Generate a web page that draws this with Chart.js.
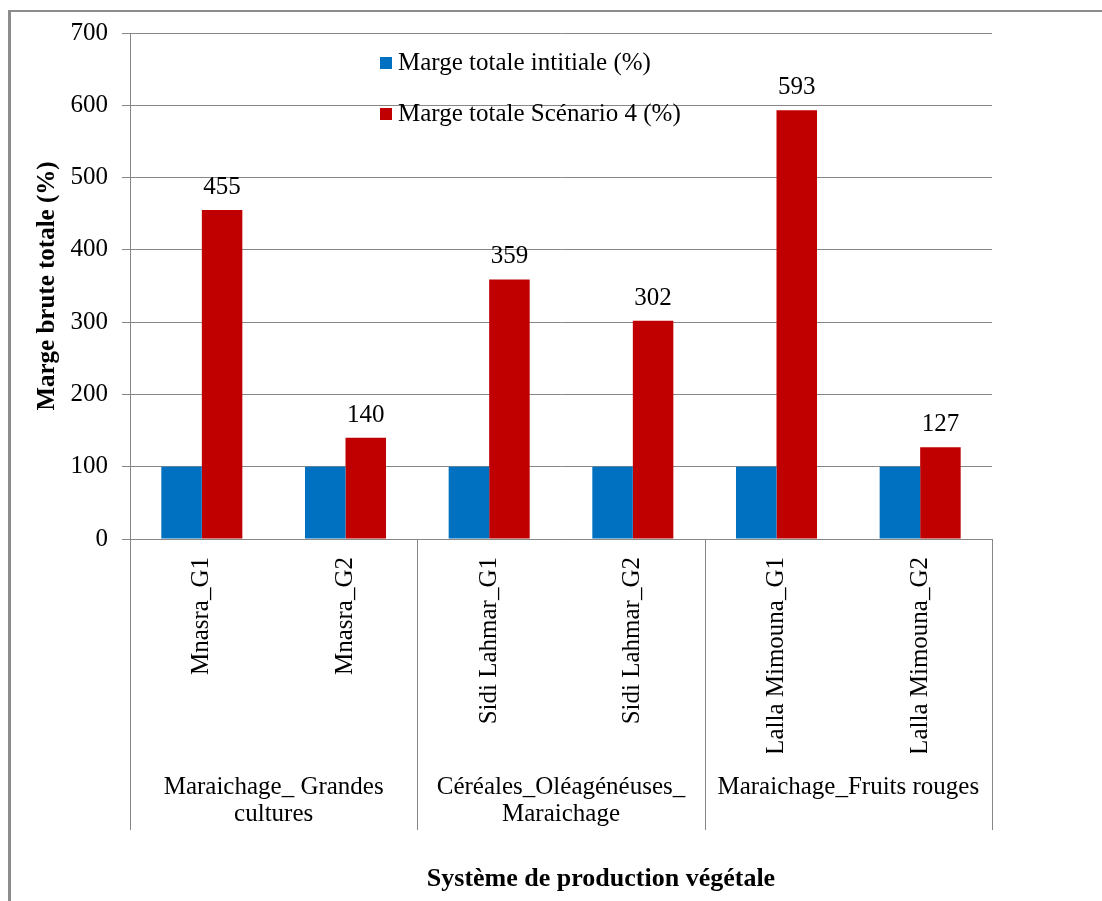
<!DOCTYPE html>
<html>
<head>
<meta charset="utf-8">
<script src="https://cdn.jsdelivr.net/npm/chart.js@4.4.0/dist/chart.umd.min.js"></script>
<style>
  html, body { margin: 0; padding: 0; background: #fff; }
  #wrap { width: 1102px; height: 901px; position: relative; }
</style>
</head>
<body>
<div id="wrap"><canvas id="myChart" width="1102" height="901"></canvas></div>
<script>
// donnees
var sites = ['Mnasra_G1', 'Mnasra_G2', 'Sidi Lahmar_G1', 'Sidi Lahmar_G2', 'Lalla Mimouna_G1', 'Lalla Mimouna_G2'];
var systemes = [['Maraichage_ Grandes', 'cultures'], ['Céréales_Oléagénéuses_', 'Maraichage'], 'Maraichage_Fruits rouges'];
var margeInitiale = [100, 100, 100, 100, 100, 100];
var margeScenario4 = [455, 140, 359, 302, 593, 127];
var yTicks = [0, 100, 200, 300, 400, 500, 600, 700];

var serif = "'Liberation Serif', 'Times New Roman', serif";
var gris = '#878787';
var bleu = '#0070C0';
var rouge = '#C00000';

// cadre, separateurs de groupes, etiquettes, legende et titre X
var extras = {
    id: 'extras',
    beforeDraw: function (chart) {
        var ctx = chart.ctx;
        ctx.save();
        ctx.fillStyle = '#fff';
        ctx.fillRect(0, 0, chart.width, chart.height);
        ctx.strokeStyle = '#8c8c8c';
        ctx.lineWidth = 3;
        ctx.beginPath();
        ctx.moveTo(9.5, chart.height);
        ctx.lineTo(9.5, 11);
        ctx.stroke();
        ctx.lineWidth = 2;
        ctx.beginPath();
        ctx.moveTo(8, 11);
        ctx.lineTo(chart.width, 11);
        ctx.stroke();
        ctx.restore();
    },
    afterDraw: function (chart) {
        var ctx = chart.ctx;
        var area = chart.chartArea;
        var x = chart.scales.x;
        var x2 = chart.scales.x2;
        ctx.save();

        // separateurs entre systemes
        ctx.strokeStyle = gris;
        ctx.lineWidth = 1;
        var n = sites.length;
        var step = (x.getPixelForValue(1) - x.getPixelForValue(0));
        for (var i = 0; i <= n; i += 2) {
            var px = Math.round(x.getPixelForValue(0) - step / 2 + i * step) + 0.5;
            ctx.beginPath();
            ctx.moveTo(px, area.bottom);
            ctx.lineTo(px, x2.bottom);
            ctx.stroke();
        }

        // valeurs au-dessus des barres rouges
        ctx.font = '25px ' + serif;
        ctx.fillStyle = '#000';
        ctx.textAlign = 'center';
        ctx.textBaseline = 'alphabetic';
        var meta = chart.getDatasetMeta(1);
        meta.data.forEach(function (bar, k) {
            ctx.fillText(margeScenario4[k], bar.x, bar.y - 16);
        });

        // legende
        ctx.textAlign = 'left';
        ctx.textBaseline = 'middle';
        var lx = area.left + 250;
        var ly = area.top + 30;
        chart.data.datasets.forEach(function (ds, k) {
            ctx.fillStyle = ds.backgroundColor;
            ctx.fillRect(lx, ly + k * 51 - 6, 12, 12);
            ctx.fillStyle = '#000';
            ctx.fillText(ds.label, lx + 18, ly + k * 51);
        });

        // titre de l'axe X
        ctx.font = 'bold 26px ' + serif;
        ctx.textAlign = 'center';
        ctx.fillText('Système de production végétale', 601, 879);
        ctx.restore();
    }
};

var ctx = document.getElementById('myChart').getContext('2d');
var chart = new Chart(ctx, {
    type: 'bar',
    data: {
        labels: sites,
        datasets: [{
            label: 'Marge totale intitiale (%)',
            data: margeInitiale,
            backgroundColor: bleu,
            categoryPercentage: 0.564,
            barPercentage: 1
        }, {
            label: 'Marge totale Scénario 4 (%)',
            data: margeScenario4,
            backgroundColor: rouge,
            categoryPercentage: 0.564,
            barPercentage: 1
        }]
    },
    options: {
        responsive: false,
        animation: false,
        layout: { padding: { left: 28, top: 33, right: 110, bottom: 71 } },
        plugins: {
            legend: { display: false },
            tooltip: { enabled: false }
        },
        scales: {
            y: {
                min: 0,
                max: 700,
                afterBuildTicks: function (s) { s.ticks = yTicks.map(function (v) { return { value: v }; }); },
                afterFit: function (s) { s.width = 102; },
                grid: { color: gris, tickLength: 8 },
                border: { color: gris },
                ticks: { color: '#000', padding: 14, font: { family: serif, size: 25 } },
                title: {
                    display: true,
                    text: 'Marge brute totale (%)',
                    color: '#000',
                    padding: { top: 5, bottom: 0 },
                    font: { family: serif, size: 25, weight: 'bold' }
                }
            },
            x: {
                weight: 0,
                afterFit: function (s) { s.height = 214; },
                grid: { display: false, drawTicks: false, tickLength: 0 },
                border: { color: gris },
                ticks: {
                    color: '#000',
                    padding: 18,
                    minRotation: 90,
                    maxRotation: 90,
                    autoSkip: true,
                    font: { family: serif, size: 25 }
                }
            },
            x2: {
                type: 'category',
                position: 'bottom',
                weight: 1,
                labels: systemes,
                afterFit: function (s) { s.height = 77; },
                grid: { display: false, drawTicks: false, tickLength: 0 },
                border: { display: false },
                ticks: {
                    color: '#000',
                    padding: 21,
                    maxRotation: 0,
                    autoSkip: true,
                    font: { family: serif, size: 25, lineHeight: 1.08 }
                }
            }
        }
    },
    plugins: [extras]
});
</script>
</body>
</html>
